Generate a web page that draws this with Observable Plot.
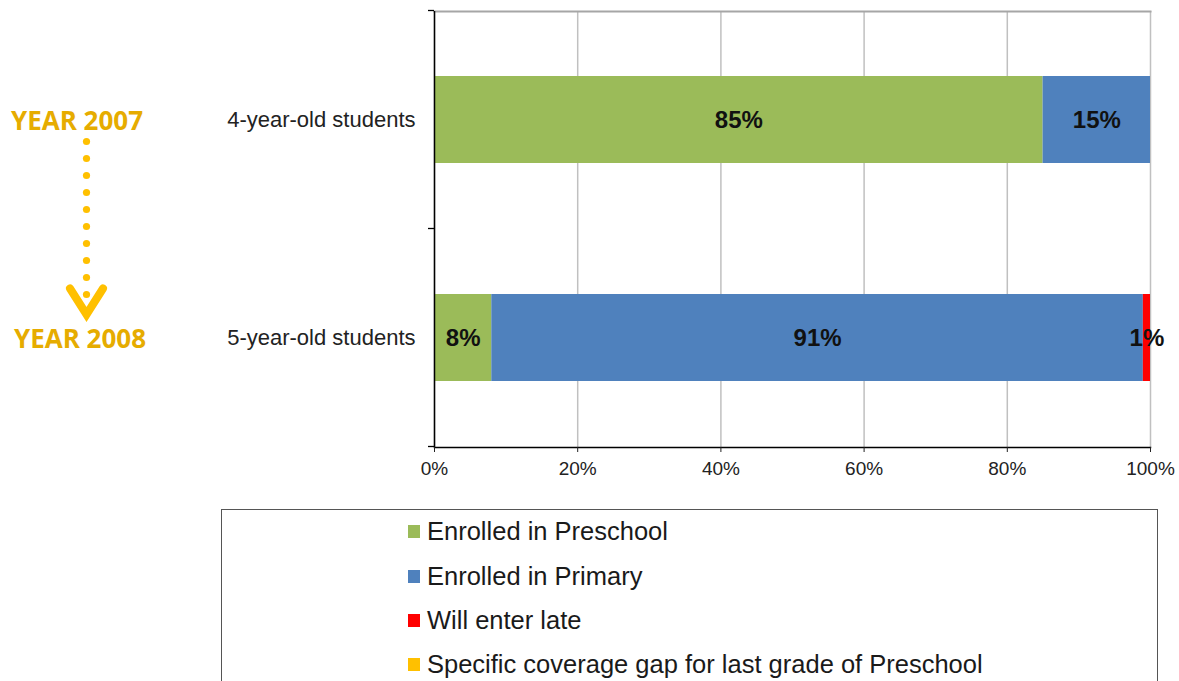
<!DOCTYPE html>
<html>
<head>
<meta charset="utf-8">
<script src="https://cdn.jsdelivr.net/npm/d3@7"></script>
<script src="https://cdn.jsdelivr.net/npm/@observablehq/plot@0.6"></script>
<style>
  html, body { margin: 0; padding: 0; background: #fff; width: 1179px; height: 681px; overflow: hidden; }
  #wrap { position: relative; width: 1179px; height: 681px; font-family: "Liberation Sans", Arial, sans-serif; }
  #chart { position: absolute; left: 0; top: 0; }
  #legend { position: absolute; left: 221px; top: 509px; width: 937px; height: 220px; border: 1.5px solid #555; box-sizing: border-box; }
  .item { position: absolute; left: 186px; display: flex; align-items: center; font-size: 25.5px; color: #1a1a1a; white-space: nowrap; }
  .sw { width: 12px; height: 13px; margin-right: 7px; }
</style>
</head>
<body>
<div id="wrap">
  <div id="chart"></div>
  <div id="legend"></div>
</div>
<script>
// ---- data ----
const categories = ["4-year-old students", "5-year-old students"];
const series = ["Enrolled in Preschool", "Enrolled in Primary", "Will enter late", "Specific coverage gap for last grade of Preschool"];
const colors = ["#9BBB59", "#4F81BD", "#FF0000", "#FFC000"];
const preschool = [85, 8];
const primary = [15, 91];
const late = [0, 1];
const gap = [0, 0];
const xTicks = [0, 20, 40, 60, 80, 100];
const years = ["YEAR 2007", "YEAR 2008"];

const valuesBySeries = [preschool, primary, late, gap];
const rows = [];
series.forEach((s, si) => {
  categories.forEach((c, ci) => {
    rows.push({series: s, category: c, value: valuesBySeries[si][ci]});
  });
});

// decorative annotation (years + dotted arrow), positioned with the y scale
function annotation(index, scales, values, dims) {
  const y = scales.y;
  const bw = typeof y.bandwidth === "function" ? y.bandwidth() : scales.scales.y.bandwidth;
  const step = typeof y.step === "function" ? y.step() : scales.scales.y.step;
  const g = d3.create("svg:g");
  const c0 = y(categories[0]) + bw / 2;
  const c1 = y(categories[1]) + bw / 2;
  const ax = 86.5;
  // category boundary ticks on the left axis
  const start = y(categories[0]) - (step - bw) / 2;
  for (let i = 0; i <= categories.length; i++) {
    const yy = start + i * step;
    g.append("line").attr("x1", dims.marginLeft - 6).attr("x2", dims.marginLeft)
      .attr("y1", yy).attr("y2", yy).attr("stroke", "#000").attr("stroke-width", 1.3);
  }
  // year labels
  years.forEach((t, i) => {
    g.append("text").text(t)
      .attr("x", i === 0 ? 77 : 80).attr("y", i === 0 ? c0 : c1)
      .attr("text-anchor", "middle").attr("dominant-baseline", "central")
      .attr("font-family", "'Open Sans', sans-serif").attr("font-weight", 700)
      .attr("font-size", 26).attr("fill", "#E6AC00");
  });
  // chevron
  const vb = c1 - 23, vt = c1 - 49;
  g.append("path").attr("d", `M${ax - 16.5},${vt} L${ax},${vb} L${ax + 16.5},${vt}`)
    .attr("fill", "none").attr("stroke", "#FFC000").attr("stroke-width", 8)
    .attr("stroke-linecap", "round").attr("stroke-linejoin", "miter");
  // dotted line
  for (let yy = c0 + 22; yy <= c1 - 42; yy += 17) {
    g.append("circle").attr("cx", ax).attr("cy", yy).attr("r", 3.6).attr("fill", "#FFC000");
  }
  return g.node();
}

const plot = Plot.plot({
  width: 1179,
  height: 492,
  marginTop: 11,
  marginBottom: 45,
  marginLeft: 434,
  marginRight: 29,
  style: {fontFamily: "'Liberation Sans', Arial, sans-serif", background: "#fff", overflow: "visible"},
  x: {domain: [0, 100]},
  y: {domain: categories, paddingInner: 0.6, paddingOuter: 0.3},
  color: {domain: series, range: colors},
  marks: [
    Plot.gridX(xTicks, {stroke: "#c0c0c0", strokeOpacity: 1, strokeWidth: 1.5}),
    Plot.frame({anchor: "top", stroke: "#a6a6a6", strokeWidth: 2}),
    Plot.barX(rows, Plot.stackX({x: "value", y: "category", fill: "series", order: null})),
    Plot.ruleX([0], {stroke: "#000", strokeWidth: 1.5}),
    Plot.frame({anchor: "bottom", stroke: "#000", strokeWidth: 1.5}),
    Plot.text(rows.filter(d => d.value > 0), Plot.stackX({
      x: "value", y: "category", text: d => d.value + "%", order: null,
      fontSize: 24, fontWeight: "bold", fill: "#111"
    })),
    Plot.axisX({ticks: xTicks, tickFormat: d => d + "%", tickSize: 5, tickPadding: 9, fontSize: 19, color: "#222", label: null}),
    Plot.axisY({tickSize: 0, tickPadding: 19, fontSize: 22, color: "#222", label: null}),
    annotation
  ]
});
document.getElementById("chart").appendChild(plot);

// legend built from series/colors
const legend = document.getElementById("legend");
const itemTops = [22, 67, 111, 155];
series.forEach((s, i) => {
  const div = document.createElement("div");
  div.className = "item";
  div.style.top = (itemTops[i] - 15) + "px";
  const sw = document.createElement("span");
  sw.className = "sw";
  sw.style.background = colors[i];
  div.appendChild(sw);
  const tx = document.createElement("span");
  tx.textContent = s;
  div.appendChild(tx);
  legend.appendChild(div);
});
</script>
</body>
</html>
